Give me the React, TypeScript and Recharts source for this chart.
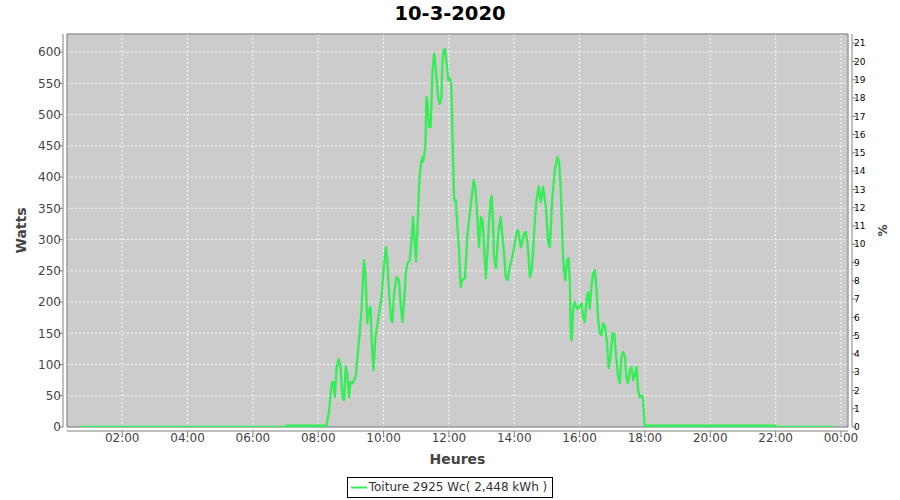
import { LineChart, Line, XAxis, YAxis, CartesianGrid, Legend, ReferenceArea, Label } from 'recharts';

// production of 10-3-2020, times in decimal hours, power in watts
const hours = [
  0.73, 7.0, 7.02, 8.25, 8.33, 8.41, 8.46, 8.51, 8.56, 8.63, 8.68, 8.74, 8.79, 8.84, 8.89, 8.94, 8.99,
  9.04, 9.1, 9.15, 9.22, 9.27, 9.33, 9.4, 9.45, 9.5, 9.55, 9.6, 9.64, 9.69, 9.75, 9.8, 9.86, 9.94, 9.99,
  10.07, 10.11, 10.17, 10.23, 10.27, 10.32, 10.4, 10.47, 10.53, 10.58, 10.63, 10.68, 10.73, 10.8, 10.86,
  10.9, 10.95, 10.99, 11.04, 11.08, 11.12, 11.16, 11.19, 11.21, 11.28, 11.31, 11.34, 11.39, 11.44, 11.5,
  11.55, 11.6, 11.67, 11.72, 11.77, 11.8, 11.84, 11.88, 11.93, 11.98, 12.03, 12.07, 12.1, 12.13, 12.16,
  12.21, 12.26, 12.31, 12.36, 12.4, 12.49, 12.57, 12.64, 12.7, 12.76, 12.8, 12.84, 12.92, 12.98, 13.03,
  13.08, 13.13, 13.18, 13.23, 13.28, 13.31, 13.35, 13.38, 13.44, 13.51, 13.58, 13.63, 13.68, 13.74, 13.8,
  13.86, 13.93, 14.0, 14.07, 14.12, 14.2, 14.25, 14.3, 14.35, 14.41, 14.48, 14.53, 14.58, 14.63, 14.68,
  14.75, 14.81, 14.88, 14.92, 14.97, 15.04, 15.09, 15.16, 15.24, 15.32, 15.37, 15.42, 15.45, 15.48, 15.52,
  15.56, 15.62, 15.66, 15.7, 15.73, 15.76, 15.8, 15.85, 15.92, 15.98, 16.06, 16.11, 16.16, 16.21, 16.26,
  16.31, 16.36, 16.41, 16.47, 16.52, 16.57, 16.62, 16.67, 16.72, 16.78, 16.84, 16.89, 16.94, 17.01, 17.06,
  17.11, 17.18, 17.23, 17.28, 17.33, 17.39, 17.43, 17.48, 17.54, 17.59, 17.64, 17.69, 17.74, 17.79, 17.84,
  17.91, 17.94, 17.99, 18.05, 22.0, 22.02, 23.77,
];

const watts = [
  0, 0, 2, 2, 24, 70, 72, 48, 94, 109, 96, 48, 43, 97, 85, 48, 72,
  70, 75, 82, 123, 150, 192, 267, 240, 166, 187, 192, 134, 91, 144, 160, 182, 208, 246,
  288, 270, 214, 171, 168, 214, 240, 235, 192, 168, 203, 246, 262, 266, 300,
  336, 300, 265, 320, 380, 410, 427, 432, 425, 448, 528, 522, 480, 480, 571,
  598, 571, 528, 517, 528, 582, 603, 605, 582, 555, 557, 549, 486, 422, 363,
  363, 320, 283, 224, 235, 238, 310, 342, 370, 395, 385, 363, 288, 336, 331,
  283, 238, 280, 331, 363, 370, 325, 272, 254, 310, 336, 310, 283, 240, 235,
  256, 270, 288, 312, 315, 288, 296, 310, 312, 293, 240, 250, 283, 331, 363,
  385, 360, 384, 370, 350, 294, 288, 363, 411, 432, 424, 384, 342, 288, 251,
  235, 267, 270, 235, 144, 139, 187, 200, 189, 192, 198, 176, 168, 203, 216,
  190, 224, 246, 251, 218, 171, 150, 147, 166, 160, 134, 94, 110, 150, 150,
  118, 80, 70, 110, 120, 112, 80, 70, 91, 96, 75, 83, 96, 59, 48,
  50, 45, 3, 2, 2, 0, 0,
];

const xTicks = [2, 4, 6, 8, 10, 12, 14, 16, 18, 20, 22, 24];
const wattTicks = [0, 50, 100, 150, 200, 250, 300, 350, 400, 450, 500, 550, 600];
const pctTicks = [0, 1, 2, 3, 4, 5, 6, 7, 8, 9, 10, 11, 12, 13, 14, 15, 16, 17, 18, 19, 20, 21];

const PEAK_POWER = 2925;
const X_MIN = 0.31;
const X_MAX = 24.215;
const Y_MAX = 629;

const data = hours.map((h, i) => ({ h, w: watts[i] }));

const FONT = '"DejaVu Sans", sans-serif';
const GREEN = '#33ee55';

const fmtHour = (h: number) => `${String(h % 24).padStart(2, '0')}:00`;

function LegendBox() {
  return (
    <div style={{ textAlign: 'center', paddingTop: 7 }}>
      <div
        style={{
          display: 'inline-flex',
          alignItems: 'center',
          border: '1px solid #000',
          height: 19,
          padding: '0 5px 0 2px',
          fontFamily: FONT,
          fontSize: 12,
          color: '#333',
          lineHeight: '19px',
        }}
      >
        <svg width={17} height={19} style={{ marginRight: 2 }}>
          <line x1={1} y1={9.5} x2={17} y2={9.5} stroke={GREEN} strokeWidth={2} />
        </svg>
        Toiture 2925 Wc( 2,448 kWh )
      </div>
    </div>
  );
}

export default function App() {
  return (
    <div style={{ position: 'absolute', left: 0, top: 0, width: 900, height: 500, background: '#fff' }}>
      <style>{`
        .ax-left { transform: translate(-4px, 0); }
        .ax-right { transform: translate(4px, 0); }
        .ax-bottom { transform: translate(0, 4px); }
      `}</style>
      <div
        style={{
          position: 'absolute',
          top: 2,
          left: 0,
          width: 900,
          textAlign: 'center',
          fontFamily: FONT,
          fontWeight: 'bold',
          fontSize: 19.5,
          lineHeight: '24px',
          color: '#000',
        }}
      >
        10-3-2020
      </div>
      <LineChart
        width={900}
        height={500}
        data={data}
        margin={{ top: 34, right: 0, bottom: 0, left: 0 }}
        style={{ fontFamily: FONT }}
      >
        <CartesianGrid
          yAxisId="left"
          fill="#cccccc"
          stroke="#ffffff"
          strokeOpacity={0.85}
          strokeDasharray="2 2"
        />
        <XAxis
          className="ax-bottom"
          dataKey="h"
          type="number"
          domain={[X_MIN, X_MAX]}
          allowDataOverflow
          ticks={xTicks}
          tickFormatter={fmtHour}
          height={43}
          tickSize={4}
          tickMargin={2}
          stroke="#808080"
          tick={{ fill: '#444', fontSize: 12 }}
        >
          <Label
            content={({ viewBox }: any) => (
              <text
                x={viewBox.x + viewBox.width / 2}
                y={463.5 - 4}
                textAnchor="middle"
                fill="#444"
                fontSize={14}
                fontWeight="bold"
              >
                Heures
              </text>
            )}
          />
        </XAxis>
        <YAxis
          className="ax-left"
          yAxisId="left"
          domain={[0, Y_MAX]}
          allowDataOverflow
          ticks={wattTicks}
          width={67}
          tickSize={4}
          tickMargin={2}
          stroke="#808080"
          tick={{ fill: '#444', fontSize: 12 }}
        >
          <Label
            content={({ viewBox }: any) => {
              const cy = viewBox.y + viewBox.height / 2;
              return (
                <text
                  x={29.5}
                  y={cy}
                  transform={`rotate(-90 29.5 ${cy})`}
                  textAnchor="middle"
                  fill="#444"
                  fontSize={14}
                  fontWeight="bold"
                >
                  Watts
                </text>
              );
            }}
          />
        </YAxis>
        <YAxis
          className="ax-right"
          yAxisId="right"
          orientation="right"
          domain={[0, (Y_MAX / PEAK_POWER) * 100]}
          allowDataOverflow
          ticks={pctTicks}
          width={52}
          tickSize={4}
          tickMargin={2}
          stroke="#808080"
          tick={{ fill: '#000', fontSize: 9 }}
        >
          <Label
            content={({ viewBox }: any) => {
              const cy = viewBox.y + viewBox.height / 2;
              return (
                <text
                  x={883}
                  y={cy}
                  transform={`rotate(-90 883 ${cy})`}
                  textAnchor="middle"
                  fill="#444"
                  fontSize={12}
                  fontWeight="bold"
                >
                  %
                </text>
              );
            }}
          />
        </YAxis>
        <ReferenceArea
          yAxisId="left"
          x1={X_MIN}
          x2={X_MAX}
          y1={0}
          y2={Y_MAX}
          fill="none"
          stroke="#707070"
          strokeWidth={1}
          ifOverflow="visible"
        />
        <Line
          yAxisId="left"
          type="linear"
          dataKey="w"
          name="Toiture 2925 Wc( 2,448 kWh )"
          stroke={GREEN}
          strokeWidth={2.3}
          strokeLinejoin="round"
          dot={false}
          isAnimationActive={false}
        />
        <Legend verticalAlign="bottom" height={30} content={() => <LegendBox />} />
      </LineChart>
    </div>
  );
}
